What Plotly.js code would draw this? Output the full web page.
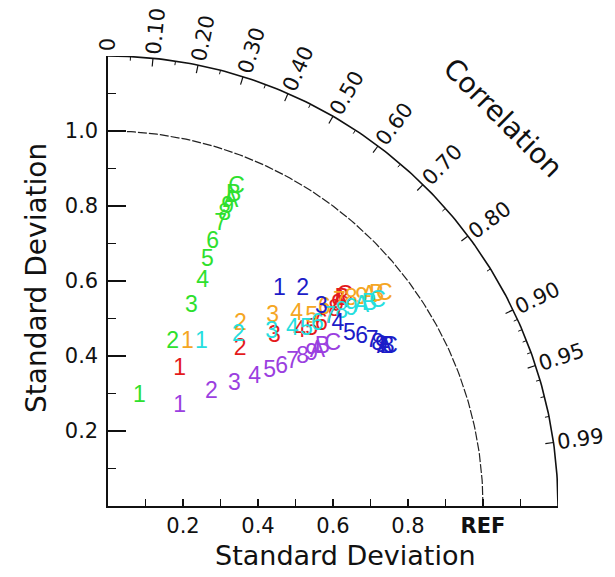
<!DOCTYPE html>
<html>
<head>
<meta charset="utf-8">
<script src="https://cdn.plot.ly/plotly-3.0.1.min.js"></script>
<style>html,body{margin:0;padding:0;background:#fff;}#chart{width:615px;height:577px;}</style>
</head>
<body>
<div id="chart"></div>
<script>
// Point labels (12 members per series)
const pointLabels = ['1','2','3','4','5','6','7','8','9','A','B','C'];

// Standard deviation and correlation for each series
const greenSD  = [0.304,0.469,0.577,0.650,0.708,0.756,0.809,0.837,0.858,0.875,0.893,0.916];
const greenR   = [0.276,0.367,0.386,0.388,0.374,0.369,0.371,0.372,0.372,0.374,0.375,0.374];
const redSD    = [0.411,0.546,0.634,0.691,0.719,0.747,0.776,0.798,0.813,0.825,0.834,0.844];
const redR     = [0.465,0.646,0.700,0.740,0.755,0.762,0.762,0.757,0.753,0.751,0.749,0.748];
const orangeSD = [0.485,0.599,0.669,0.717,0.741,0.781,0.822,0.851,0.875,0.893,0.910,0.928];
const orangeR  = [0.437,0.589,0.656,0.702,0.733,0.739,0.751,0.762,0.773,0.780,0.787,0.794];
const cyanSD   = [0.502,0.574,0.636,0.681,0.708,0.739,0.776,0.809,0.834,0.860,0.880,0.902];
const cyanR    = [0.496,0.606,0.686,0.722,0.747,0.756,0.762,0.770,0.778,0.786,0.792,0.797];
const purpleSD = [0.327,0.410,0.468,0.520,0.561,0.592,0.624,0.653,0.677,0.694,0.711,0.738];
const purpleR  = [0.584,0.673,0.720,0.752,0.768,0.782,0.789,0.795,0.802,0.805,0.804,0.812];
const blueSD   = [0.736,0.776,0.777,0.781,0.790,0.812,0.830,0.838,0.844,0.850,0.857,0.862];
const blueR    = [0.621,0.669,0.732,0.785,0.815,0.833,0.849,0.858,0.864,0.867,0.869,0.871];

// Correlation axis
const corrMajor = [0.1,0.2,0.3,0.4,0.5,0.6,0.7,0.8,0.9,0.95,0.99];
const corrMajorText = ['0.10','0.20','0.30','0.40','0.50','0.60','0.70','0.80','0.90','0.95','0.99'];
const corrMinor = [0.05,0.15,0.25,0.35,0.45,0.55,0.65,0.75,0.85,0.91,0.92,0.93,0.94,0.96,0.97,0.98];

// Standard deviation axis ticks
const sdTicks = [0.2,0.4,0.6,0.8,1.0];
const sdTickText = ['0.2','0.4','0.6','0.8','<b>REF</b>'];
const sdMinor = [0.1,0.3,0.5,0.7,0.9,1.1];

const RMAX = 1.2, REF = 1.0;
const PX = 375; // pixels per unit (approx.)

const series = [
  {sd: greenSD,  r: greenR,  color: '#2ee02e'},
  {sd: redSD,    r: redR,    color: '#e41a1c'},
  {sd: orangeSD, r: orangeR, color: '#f5a623'},
  {sd: cyanSD,   r: cyanR,   color: '#26dede'},
  {sd: purpleSD, r: purpleR, color: '#9b3fe0'},
  {sd: blueSD,   r: blueR,   color: '#1c1cc8'}
];

const traces = [];

function arc(radius){
  const xs=[], ys=[];
  for(let a=0;a<=90.0001;a+=0.5){ xs.push(radius*Math.cos(a*Math.PI/180)); ys.push(radius*Math.sin(a*Math.PI/180)); }
  return {xs, ys};
}
const outer = arc(RMAX);
traces.push({x: outer.xs, y: outer.ys, mode:'lines', line:{color:'#111', width:1.6}, hoverinfo:'skip', cliponaxis:false});
const refArc = arc(REF);
traces.push({x: refArc.xs, y: refArc.ys, mode:'lines', line:{color:'#222', width:1.2, dash:'9px,2px'}, hoverinfo:'skip'});

function tickTrace(vals, len, width){
  const xs=[], ys=[];
  vals.forEach(c=>{
    const s=Math.sqrt(1-c*c);
    xs.push(RMAX*c, (RMAX-len)*c, null);
    ys.push(RMAX*s, (RMAX-len)*s, null);
  });
  return {x:xs, y:ys, mode:'lines', line:{color:'#111', width:width}, hoverinfo:'skip', cliponaxis:false};
}
traces.push(tickTrace(corrMajor, 0.022, 1.2));
traces.push(tickTrace(corrMinor, 0.011, 1.0));

series.forEach(s=>{
  traces.push({
    x: s.sd.map((v,i)=>v*s.r[i]),
    y: s.sd.map((v,i)=>v*Math.sqrt(1-s.r[i]*s.r[i])),
    text: pointLabels,
    mode: 'text',
    textposition: 'middle center',
    textfont: {family:'Liberation Sans, Arial, sans-serif', size:23, color:s.color},
    hoverinfo: 'skip',
    cliponaxis: false
  });
});

// data units -> paper fraction (both axes span [0, RMAX])
const P = v => v / RMAX;

const annFont = {family:'DejaVu Sans, sans-serif', size:21, color:'#111'};
const annotations = [];
const allCorr = [0].concat(corrMajor);
const allCorrText = ['0'].concat(corrMajorText);
allCorr.forEach((c,i)=>{
  const t = allCorrText[i];
  const digits = t.replace('.','').length;
  const dots = t.length - digits;
  const wpx = annFont.size*(0.636*digits + 0.318*dots);
  const rr = RMAX + (4 + wpx/2)/PX;
  const th = Math.acos(c);
  annotations.push({
    x: P(rr*Math.cos(th)), y: P(rr*Math.sin(th)), xref:'paper', yref:'paper',
    text: t, showarrow:false, xanchor:'center', yanchor:'middle',
    textangle: -th*180/Math.PI, font: annFont
  });
});
annotations.push({x:P(1.052), y:P(1.036), xref:'paper', yref:'paper', text:'Correlation', showarrow:false,
  xanchor:'center', yanchor:'middle', textangle:45,
  font:{family:'DejaVu Sans, sans-serif', size:28, color:'#111'}});
annotations.push({x:P(0.632), y:P(-0.133), xref:'paper', yref:'paper', text:'Standard Deviation', showarrow:false,
  xanchor:'center', yanchor:'middle',
  font:{family:'DejaVu Sans, sans-serif', size:27, color:'#111'}});
annotations.push({x:P(-0.191), y:P(0.609), xref:'paper', yref:'paper', text:'Standard Deviation', showarrow:false,
  xanchor:'center', yanchor:'middle', textangle:-90,
  font:{family:'DejaVu Sans, sans-serif', size:28, color:'#111'}});

const tickFont = {family:'DejaVu Sans, sans-serif', size:21, color:'#111'};
const layout = {
  width:615, height:577,
  margin:{l:108, r:57, t:56, b:71},
  paper_bgcolor:'#fff', plot_bgcolor:'#fff',
  showlegend:false,
  xaxis:{range:[0,RMAX], showline:true, linecolor:'#111', linewidth:1.6, mirror:false,
    showgrid:false, zeroline:false, ticks:'inside', ticklen:7, tickwidth:1.2, tickcolor:'#111',
    tickmode:'array', tickvals:sdTicks, ticktext:sdTickText, tickfont:tickFont,
    minor:{tickmode:'array', tickvals:sdMinor, ticks:'inside', ticklen:7, tickwidth:1.2, tickcolor:'#111', showgrid:false},
    fixedrange:true},
  yaxis:{range:[0,RMAX], showline:true, linecolor:'#111', linewidth:1.6, mirror:false,
    showgrid:false, zeroline:false, ticks:'inside', ticklen:18, tickwidth:1.2, tickcolor:'#111',
    tickmode:'array', tickvals:sdTicks, ticktext:['0.2','0.4','0.6','0.8','1.0'], tickfont:tickFont,
    ticklabelstandoff:4,
    minor:{tickmode:'array', tickvals:sdMinor, ticks:'inside', ticklen:8, tickwidth:1.2, tickcolor:'#111', showgrid:false},
    fixedrange:true},
  annotations: annotations
};

Plotly.newPlot('chart', traces, layout, {displayModeBar:false, staticPlot:true});
</script>
</body>
</html>
